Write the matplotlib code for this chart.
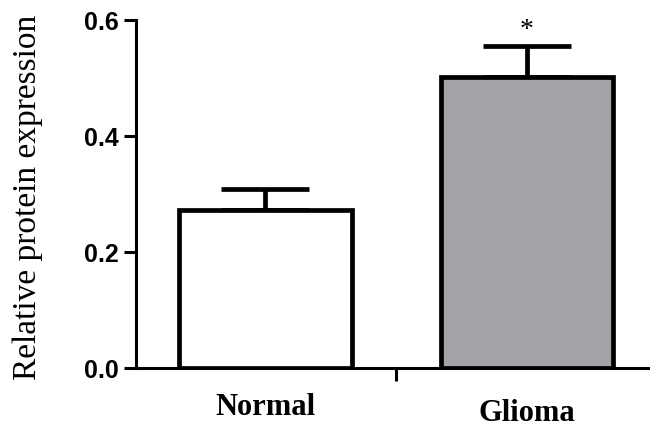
import matplotlib
matplotlib.use("Agg")
import matplotlib.pyplot as plt

groups = ["Normal", "Glioma"]
means = [0.272, 0.502]
errors = [0.037, 0.053]
colors = ["white", "#a3a2a7"]
y_ticks = [0.0, 0.2, 0.4, 0.6]

fig = plt.figure(figsize=(6.5, 4.29), dpi=100)
ax = fig.add_axes([136 / 650, 1 - 368 / 429, 1 - 136 / 650, (368 - 20) / 429])

x = [0, 1]
ax.bar(x, means, width=0.66, color=colors, edgecolor="black", linewidth=3.4, zorder=3)
ax.errorbar(x, means, yerr=[[0, 0], errors], fmt="none", ecolor="black",
            elinewidth=3.4, capsize=32, capthick=3.4, zorder=2)

# significance mark
ax.text(1, means[1] + errors[1] + 0.027, "*", ha="center", va="center",
        fontsize=20, family="Liberation Serif")

ax.set_xlim(-0.495, 1.47)
ax.set_ylim(0, 0.6)
ax.set_yticks(y_ticks)
ax.set_yticklabels(["%.1f" % t for t in y_ticks], fontsize=18,
                   fontweight="bold", family="Liberation Sans")
ax.set_xticks([0.5])
ax.set_xticklabels([""])
ax.tick_params(axis="both", width=2.2, length=9, direction="out")

label_y = [-0.068, -0.078]
for i, g in enumerate(groups):
    ax.text(x[i], label_y[i], g, ha="center", va="center", fontsize=22,
            fontweight="bold", family="Liberation Serif", clip_on=False)

ax.set_ylabel("Relative protein expression", fontsize=24,
              family="Liberation Serif")
ax.yaxis.set_label_coords(-0.18, 0.49)

for s in ["top", "right"]:
    ax.spines[s].set_visible(False)
ax.spines["left"].set_linewidth(2.2)
ax.spines["bottom"].set_linewidth(2.2)
ax.spines["left"].set_bounds(0, 0.6)

fig.savefig("out.png", dpi=100)
